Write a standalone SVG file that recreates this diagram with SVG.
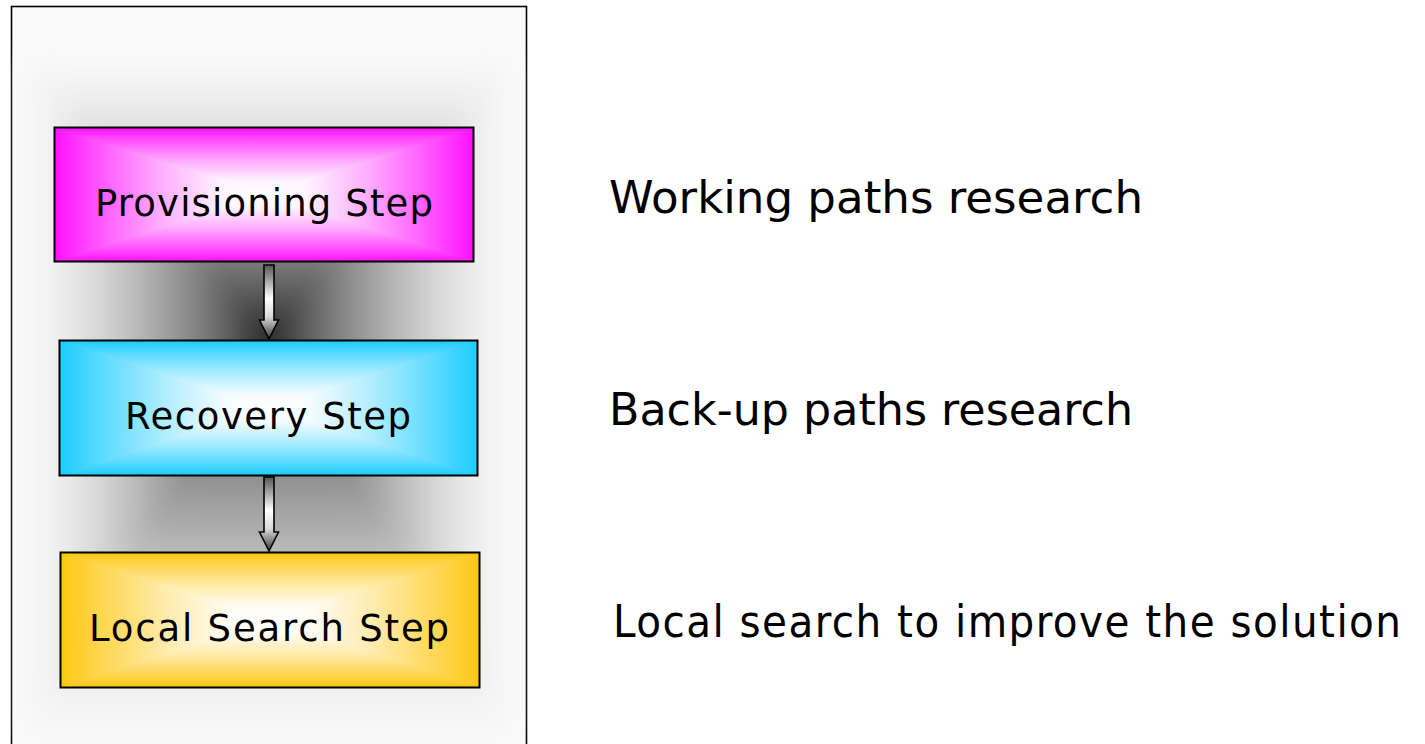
<svg xmlns="http://www.w3.org/2000/svg" xmlns:xlink="http://www.w3.org/1999/xlink" width="1425" height="744" viewBox="0 0 1425 744">
<style>
.lbl{font-family:"DejaVu Sans","Liberation Sans",sans-serif;font-size:37px;fill:#000}
.desc{font-family:"DejaVu Sans","Liberation Sans",sans-serif;font-size:45px;fill:#000}
.cond{font-family:"DejaVu Sans Condensed","DejaVu Sans","Liberation Sans",sans-serif;font-stretch:condensed}
.border{fill:none;stroke:#000;stroke-width:2}
.arrow{fill:url(#arrowG);stroke:#000;stroke-width:1.6;stroke-linejoin:miter}
</style>
<defs>
<linearGradient id="bgV" x1="0" y1="0" x2="0" y2="1">
<stop offset="0" stop-color="#f8f8f8"/><stop offset="0.0407" stop-color="#f2f2f2"/><stop offset="0.1019" stop-color="#e0e0e0"/><stop offset="0.1833" stop-color="#bcbcbc"/><stop offset="0.2852" stop-color="#848484"/><stop offset="0.3667" stop-color="#4a4a4a"/><stop offset="0.4074" stop-color="#1e1e1e"/><stop offset="0.4667" stop-color="#4a4a4a"/><stop offset="0.5852" stop-color="#848484"/><stop offset="0.7333" stop-color="#bcbcbc"/><stop offset="0.8519" stop-color="#e0e0e0"/><stop offset="0.9407" stop-color="#f2f2f2"/><stop offset="1" stop-color="#f8f8f8"/>
</linearGradient>
<linearGradient id="bgE">
<stop offset="0" stop-color="#f8f8f8"/><stop offset="0.1" stop-color="#f2f2f2"/><stop offset="0.25" stop-color="#e0e0e0"/><stop offset="0.45" stop-color="#bcbcbc"/><stop offset="0.7" stop-color="#848484"/><stop offset="0.9" stop-color="#4a4a4a"/><stop offset="1" stop-color="#1e1e1e"/>
</linearGradient>
<linearGradient id="bgL" href="#bgE" x1="0" y1="0" x2="1" y2="0"/>
<linearGradient id="bgR" href="#bgE" x1="1" y1="0" x2="0" y2="0"/>

<linearGradient id="magV" x1="0" y1="0" x2="0" y2="1">
<stop offset="0" stop-color="#ff10ff"/><stop offset="0.11" stop-color="#ff58ff"/><stop offset="0.25" stop-color="#ffabff"/><stop offset="0.4" stop-color="#fff4ff"/><stop offset="0.5" stop-color="#ffffff"/><stop offset="0.6" stop-color="#fff4ff"/><stop offset="0.75" stop-color="#ffabff"/><stop offset="0.89" stop-color="#ff58ff"/><stop offset="1" stop-color="#ff10ff"/>
</linearGradient>
<linearGradient id="magE">
<stop offset="0" stop-color="#ff10ff"/><stop offset="0.22" stop-color="#ff58ff"/><stop offset="0.5" stop-color="#ffabff"/><stop offset="0.8" stop-color="#fff4ff"/><stop offset="1" stop-color="#ffffff"/>
</linearGradient>
<linearGradient id="magL" href="#magE" x1="0" y1="0" x2="1" y2="0"/>
<linearGradient id="magR" href="#magE" x1="1" y1="0" x2="0" y2="0"/>

<linearGradient id="bluV" x1="0" y1="0" x2="0" y2="1">
<stop offset="0" stop-color="#1cccff"/><stop offset="0.11" stop-color="#60dbff"/><stop offset="0.25" stop-color="#afedff"/><stop offset="0.4" stop-color="#f4fcff"/><stop offset="0.5" stop-color="#ffffff"/><stop offset="0.6" stop-color="#f4fcff"/><stop offset="0.75" stop-color="#afedff"/><stop offset="0.89" stop-color="#60dbff"/><stop offset="1" stop-color="#1cccff"/>
</linearGradient>
<linearGradient id="bluE">
<stop offset="0" stop-color="#1cccff"/><stop offset="0.22" stop-color="#60dbff"/><stop offset="0.5" stop-color="#afedff"/><stop offset="0.8" stop-color="#f4fcff"/><stop offset="1" stop-color="#ffffff"/>
</linearGradient>
<linearGradient id="bluL" href="#bluE" x1="0" y1="0" x2="1" y2="0"/>
<linearGradient id="bluR" href="#bluE" x1="1" y1="0" x2="0" y2="0"/>

<linearGradient id="golV" x1="0" y1="0" x2="0" y2="1">
<stop offset="0" stop-color="#ffc711"/><stop offset="0.11" stop-color="#ffd858"/><stop offset="0.25" stop-color="#ffebac"/><stop offset="0.4" stop-color="#fffcf3"/><stop offset="0.5" stop-color="#ffffff"/><stop offset="0.6" stop-color="#fffcf3"/><stop offset="0.75" stop-color="#ffebac"/><stop offset="0.89" stop-color="#ffd858"/><stop offset="1" stop-color="#ffc711"/>
</linearGradient>
<linearGradient id="golE">
<stop offset="0" stop-color="#ffc711"/><stop offset="0.22" stop-color="#ffd858"/><stop offset="0.5" stop-color="#ffebac"/><stop offset="0.8" stop-color="#fffcf3"/><stop offset="1" stop-color="#ffffff"/>
</linearGradient>
<linearGradient id="golL" href="#golE" x1="0" y1="0" x2="1" y2="0"/>
<linearGradient id="golR" href="#golE" x1="1" y1="0" x2="0" y2="0"/>

<linearGradient id="arrowG" x1="0" y1="0" x2="0" y2="1">
<stop offset="0" stop-color="#555555"/><stop offset="0.45" stop-color="#ffffff"/><stop offset="0.7" stop-color="#d8d8d8"/><stop offset="1" stop-color="#3a3a3a"/>
</linearGradient>
<filter id="soft" x="-15%" y="-15%" width="130%" height="130%">
<feGaussianBlur stdDeviation="12"/>
</filter>
</defs>

<g id="frame">
<rect x="11.5" y="6.5" width="515" height="760" fill="#fafafa" stroke="#000" stroke-width="1.6"/>
</g>

<g id="backdrop" filter="url(#soft)">
<rect x="25" y="60" width="485" height="675" fill="url(#bgV)"/>
<polygon points="25,60 268,335 25,735" fill="url(#bgL)"/>
<polygon points="510,60 268,335 510,735" fill="url(#bgR)"/>
</g>

<g id="provisioning">
<rect x="54.5" y="127.5" width="419" height="134" fill="url(#magV)"/>
<polygon points="54.5,127.5 264,194.5 54.5,261.5" fill="url(#magL)"/>
<polygon points="473.5,127.5 264,194.5 473.5,261.5" fill="url(#magR)"/>
<rect class="border" x="54.5" y="127.5" width="419" height="134"/>
<text class="lbl" x="95" y="216" textLength="338" lengthAdjust="spacing">Provisioning Step</text>
</g>

<g id="recovery">
<rect x="59.5" y="340.5" width="418" height="135" fill="url(#bluV)"/>
<polygon points="59.5,340.5 268.5,408 59.5,475.5" fill="url(#bluL)"/>
<polygon points="477.5,340.5 268.5,408 477.5,475.5" fill="url(#bluR)"/>
<rect class="border" x="59.5" y="340.5" width="418" height="135"/>
<text class="lbl" x="125" y="429" textLength="286" lengthAdjust="spacing">Recovery Step</text>
</g>

<g id="localsearch">
<rect x="60.5" y="552.5" width="419" height="135" fill="url(#golV)"/>
<polygon points="60.5,552.5 270,620 60.5,687.5" fill="url(#golL)"/>
<polygon points="479.5,552.5 270,620 479.5,687.5" fill="url(#golR)"/>
<rect class="border" x="60.5" y="552.5" width="419" height="135"/>
<text class="lbl" x="89" y="641" textLength="360" lengthAdjust="spacing">Local Search Step</text>
</g>

<g id="connectors">
<polygon class="arrow" points="264,265 274,265 274,320 278.5,320 269,339 259.5,320 264,320"/>
<polygon class="arrow" points="264,477 274,477 274,532 278.5,532 269,551 259.5,532 264,532"/>
</g>

<g id="descriptions">
<text class="desc" x="609" y="213" textLength="534" lengthAdjust="spacingAndGlyphs">Working paths research</text>
<text class="desc" x="609" y="425" textLength="524" lengthAdjust="spacingAndGlyphs">Back-up paths research</text>
<text class="desc cond" x="613" y="637" textLength="788" lengthAdjust="spacing">Local search to improve the solution</text>
</g>
</svg>
